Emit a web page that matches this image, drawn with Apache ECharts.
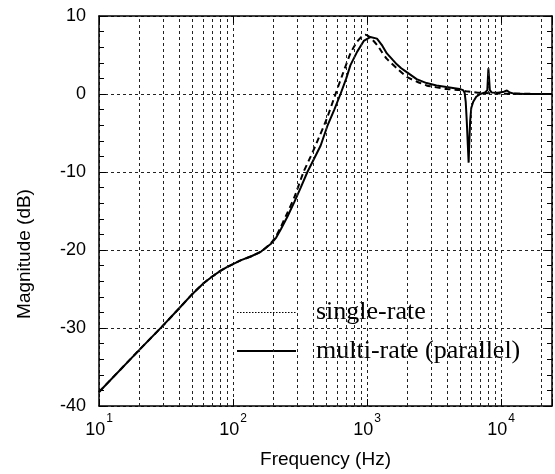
<!DOCTYPE html>
<html><head><meta charset="utf-8">
<script src="https://cdn.jsdelivr.net/npm/echarts@6/dist/echarts.min.js"></script>
<style>html,body{margin:0;padding:0;background:#fff}#c{width:555px;height:474px}</style>
</head><body><div id="c"></div>
<script>
// ---- data ----
const freqMulti = [10,20,30,40,50,60,70,80,90,100,115,137,162,192,210,228,255,286,320,359,400,451,506,570,634,700,752,843,945,1057,1186,1300,1406,1550,1668,1800,1978,2345,2780,3300,3913,4500,4910,5200,5350,5450,5550,5650,5730,5800,5880,5995,6200,6531,7000,7600,7900,8047,8250,8500,9500,10500,11070,11600,12500,15000,24000];
const magMulti  = [-38.2,-32.8,-29.7,-27.4,-25.6,-24.3,-23.4,-22.7,-22.2,-21.8,-21.3,-20.8,-20.2,-19.2,-18.4,-17.3,-15.7,-13.9,-12.0,-10.0,-8.4,-6.6,-4.1,-2.0,0.0,2.0,3.7,5.4,6.8,7.3,7.1,6.2,5.2,4.4,3.8,3.3,2.8,1.9,1.4,1.1,0.9,0.75,0.65,0.5,0.15,-1.0,-3.5,-6.5,-8.8,-6.0,-3.5,-1.8,-1.0,-0.35,0.0,0.2,0.5,3.3,0.5,0.2,0.15,0.3,0.45,0.2,0.05,0.0,0.0];
const freqSingle = [10,20,30,40,50,60,70,80,90,100,115,137,162,192,210,228,255,286,336,380,420,500,582,650,752,843,918,970,1050,1186,1300,1406,1668,1978,2345,2780,3300,3913,4910,5500,7000,10000,24000];
const magSingle  = [-38.2,-32.8,-29.7,-27.4,-25.6,-24.3,-23.4,-22.7,-22.2,-21.8,-21.3,-20.8,-20.2,-19.1,-18.2,-17.0,-15.2,-13.3,-10.0,-8.0,-6.3,-3.2,0.0,2.3,5.2,6.7,7.4,7.6,7.3,6.3,5.3,4.5,3.3,2.2,1.6,1.1,0.85,0.65,0.5,0.35,0.15,0.05,0.0];
const seriesNames = ['single-rate','multi-rate (parallel)'];
const xMin = 10, xMax = 24000;
const yMin = -40, yMax = 10, yStep = 10;
const xMinorGrid = [20,30,40,50,60,70,80,90,200,300,400,500,600,700,800,900,2000,3000,4000,5000,6000,7000,8000,9000,20000];

const sans = 'Liberation Sans, Arial, Helvetica, sans-serif';
const serif = 'Liberation Serif, Times New Roman, serif';
const gridDash = {type:[3,3], color:'#222', width:1};

const chart = echarts.init(document.getElementById('c'), null, {renderer:'canvas'});
const pair = (fs, ms) => fs.map((f,i) => [f, ms[i]]);

chart.setOption({
  animation:false,
  backgroundColor:'#fff',
  grid:{left:99, right:0, top:16, bottom:66, containLabel:false},
  legend:{
    orient:'vertical', left:236, top:299.5, padding:0, itemWidth:59, itemHeight:24, itemGap:12.4,
    textStyle:{fontFamily:serif, fontSize:26, color:'#000', padding:[0,0,0,15], lineHeight:24},
    itemStyle:{opacity:0},
    data:[
      {name:seriesNames[0], itemStyle:{opacity:0}, lineStyle:{type:[1.5,1.5], width:1.2, color:'#000', opacity:1}},
      {name:seriesNames[1], itemStyle:{opacity:0}, lineStyle:{type:'solid', width:2, color:'#000', opacity:1}}
    ]
  },
  xAxis:[{
    type:'log', logBase:10, min:xMin, max:xMax,
    name:'Frequency (Hz)', nameLocation:'middle', nameGap:44,
    nameTextStyle:{fontFamily:sans, fontSize:19, color:'#000'},
    axisLine:{show:true, onZero:false, lineStyle:{color:'#000', width:1.5}},
    axisTick:{show:true, inside:true, length:7, lineStyle:{color:'#000'}},
    minorTick:{show:false},
    splitLine:{show:true, lineStyle:gridDash},
    axisLabel:{
      margin:7, color:'#000',
      formatter:(v)=>{
        const e = Math.log10(v);
        if (Math.abs(e - Math.round(e)) > 1e-6) return '';
        return '{b|10}{s|' + Math.round(e) + '}';
      },
      rich:{
        b:{fontFamily:sans, fontSize:18, color:'#000', lineHeight:26, verticalAlign:'bottom'},
        s:{fontFamily:sans, fontSize:12, color:'#000', lineHeight:12, verticalAlign:'top', padding:[0,0,0,1]}
      }
    }
  },{
    type:'log', logBase:10, min:xMin, max:xMax, position:'top',
    axisLine:{show:true, onZero:false, lineStyle:{color:'#000', width:1.5}},
    axisTick:{show:true, inside:true, length:7, lineStyle:{color:'#000'}},
    axisLabel:{show:false}, splitLine:{show:false}
  }],
  yAxis:[{
    type:'value', min:yMin, max:yMax, interval:yStep,
    name:'Magnitude (dB)', nameLocation:'middle', nameGap:65, nameRotate:90,
    nameTextStyle:{fontFamily:sans, fontSize:19, color:'#000', padding:[0,86,0,0]},
    axisLine:{show:true, onZero:false, lineStyle:{color:'#000', width:1.5}},
    axisTick:{show:true, inside:true, length:7, lineStyle:{color:'#000'}},
    minorTick:{show:true, splitNumber:5, length:5, lineStyle:{color:'#000'}},
    splitLine:{show:true, lineStyle:gridDash},
    axisLabel:{fontFamily:sans, fontSize:18, color:'#000', margin:13}
  },{
    type:'value', min:yMin, max:yMax, interval:yStep, position:'right',
    axisLine:{show:true, onZero:false, lineStyle:{color:'#000', width:1.5}},
    axisTick:{show:true, inside:true, length:7, lineStyle:{color:'#000'}},
    minorTick:{show:true, splitNumber:5, length:5, lineStyle:{color:'#000'}},
    axisLabel:{show:false}, splitLine:{show:false}
  }],
  series:[{
    name:seriesNames[0], type:'line', symbol:'none', smooth:0.2, z:3,
    data:pair(freqSingle, magSingle),
    lineStyle:{color:'#000', width:2, type:[6,4]},
    itemStyle:{color:'#000'},
    markLine:{
      silent:true, symbol:['none','none'], label:{show:false}, animation:false,
      lineStyle:gridDash,
      data:xMinorGrid.map(v=>({xAxis:v}))
    }
  },{
    name:seriesNames[1], type:'line', symbol:'none', smooth:false, z:4,
    data:pair(freqMulti, magMulti),
    lineStyle:{color:'#000', width:2, type:'solid'},
    itemStyle:{color:'#000'}
  }]
});
</script></body></html>
